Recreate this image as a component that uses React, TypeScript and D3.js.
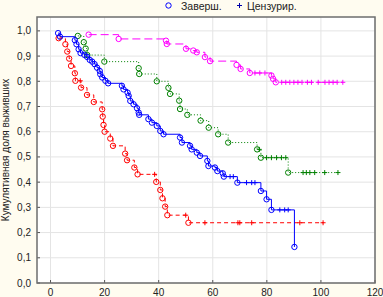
import React from "react";
import * as d3 from "d3";

const W = 383;
const H = 297;

const xTicks = [0, 20, 40, 60, 80, 100, 120];
const yTicks = [0, 0.1, 0.2, 0.3, 0.4, 0.5, 0.6, 0.7, 0.8, 0.9, 1.0];

const legendLabels = ["Заверш.", "Цензурир."];
const yLabel = "Кумулятивная доля выживших";

// Red group
const redEventT = [3, 5.5, 6.2, 6.9, 7.6, 9.0, 9.2, 11.3, 13.5, 16.0, 19.1, 19.3, 19.6, 20.0, 22.1, 23.1, 27.6, 28.3, 31.0, 32.2, 39.1, 40.6, 41.4, 42.4, 43.2, 51.0];
const redEventS = [0.971, 0.947, 0.918, 0.890, 0.861, 0.832, 0.802, 0.775, 0.746, 0.718, 0.689, 0.660, 0.627, 0.600, 0.573, 0.544, 0.513, 0.487, 0.458, 0.431, 0.401, 0.369, 0.336, 0.303, 0.269, 0.239];
const redCensT = [11.0, 38.5, 50.0, 57.1, 69.3, 70.0, 74.4, 92.2, 100.8];
const redEnd = 101;

// Blue group
const blueEventT = [2.8, 3.5, 9.0, 9.6, 10.4, 11.1, 12.5, 13.5, 14.5, 15.4, 16.3, 17.2, 18.2, 18.4, 19.1, 20.3, 21.3, 26.4, 27.0, 28.5, 28.9, 29.5, 30.7, 32.0, 32.6, 32.8, 36.2, 37.5, 39.3, 40.6, 41.8, 47.9, 48.6, 51.6, 52.2, 54.1, 55.3, 58.0, 58.4, 60.8, 61.7, 63.7, 64.1, 69.1, 77.8, 79.9, 81.7, 90.2];
const blueEventS = [0.991, 0.977, 0.963, 0.947, 0.927, 0.912, 0.905, 0.897, 0.885, 0.878, 0.868, 0.854, 0.841, 0.828, 0.815, 0.802, 0.792, 0.782, 0.768, 0.755, 0.742, 0.722, 0.709, 0.693, 0.676, 0.667, 0.650, 0.636, 0.623, 0.603, 0.590, 0.577, 0.557, 0.544, 0.530, 0.517, 0.504, 0.484, 0.464, 0.458, 0.444, 0.435, 0.422, 0.398, 0.365, 0.332, 0.290, 0.143];
const blueCensT = [66.4, 67.6, 72.5, 74.4, 75.6, 84.8, 86.6, 87.9];
const blueEnd = 90.2;

// Green group
const greenEventT = [10.1, 12.3, 13.0, 13.6, 19.9, 32.6, 32.8, 39.3, 43.6, 44.2, 47.6, 47.9, 50.6, 55.5, 58.5, 62.0, 65.7, 76.4, 77.8, 87.9];
const greenEventS = [0.980, 0.955, 0.930, 0.904, 0.878, 0.852, 0.829, 0.800, 0.774, 0.750, 0.723, 0.690, 0.667, 0.644, 0.616, 0.590, 0.557, 0.530, 0.497, 0.438];
const greenCensT = [77.2, 79.9, 81.7, 83.6, 85.4, 87.0, 93.4, 94.6, 95.9, 97.7, 101.4, 106.3];
const greenEnd = 106.3;

// Magenta group
const magEventT = [14.1, 25.2, 42.7, 43.0, 50.1, 52.8, 54.1, 57.1, 59.0, 68.8, 70.3, 73.7, 81.7, 82.3, 83.3];
const magEventS = [0.985, 0.968, 0.961, 0.948, 0.929, 0.922, 0.915, 0.896, 0.880, 0.865, 0.849, 0.833, 0.823, 0.810, 0.796];
const magCensT = [75.6, 77.4, 79.3, 85.5, 87, 88.5, 90, 91.5, 93, 95, 96.5, 99, 101.5, 103, 104.5, 106, 108.1];
const magEnd = 108.1;

type Series = {
  eventT: number[];
  eventS: number[];
  censT: number[];
  end: number;
  color: string;
  dash: string;
};

const series: Series[] = [
  { eventT: redEventT, eventS: redEventS, censT: redCensT, end: redEnd, color: "#ff0000", dash: "4,3" },
  { eventT: greenEventT, eventS: greenEventS, censT: greenCensT, end: greenEnd, color: "#008000", dash: "1,2" },
  { eventT: magEventT, eventS: magEventS, censT: magCensT, end: magEnd, color: "#ff00ff", dash: "8,4" },
  { eventT: blueEventT, eventS: blueEventS, censT: blueCensT, end: blueEnd, color: "#0000ff", dash: "" },
];

const plot = { left: 37, right: 375, top: 17, bottom: 283 };

const x = d3.scaleLinear().domain([-5, 120]).range([plot.left, plot.right]);
const y = d3.scaleLinear().domain([0, 1.055]).range([plot.bottom, plot.top]);

function survAt(s: Series, t: number): number {
  let v = s.eventS[0];
  for (let i = 0; i < s.eventT.length; i++) {
    if (s.eventT[i] <= t) v = s.eventS[i];
  }
  return v;
}

const stepLine = d3
  .line<[number, number]>()
  .x((d) => x(d[0]))
  .y((d) => y(d[1]))
  .curve(d3.curveStepAfter);

export default function App() {
  const font = "'Liberation Sans', Arial, sans-serif";
  return (
    <div style={{ position: "fixed", left: 0, top: 0, width: W, height: H }}>
      <svg width={W} height={H} style={{ display: "block", background: "#fffcf0" }}>
        <rect x={plot.left} y={plot.top} width={plot.right - plot.left} height={plot.bottom - plot.top} fill="#ffffff" />
        {xTicks.map((t) => (
          <line key={"gx" + t} x1={x(t)} x2={x(t)} y1={plot.top} y2={plot.bottom} stroke="#e4e4e4" strokeWidth={1} />
        ))}
        {yTicks.map((t) => (
          <line key={"gy" + t} x1={plot.left} x2={plot.right} y1={y(t)} y2={y(t)} stroke="#e4e4e4" strokeWidth={1} />
        ))}
        {xTicks.map((t) => (
          <line key={"tx" + t} x1={x(t)} x2={x(t)} y1={plot.bottom - 3} y2={plot.bottom} stroke="#555" strokeWidth={1} />
        ))}
        {yTicks.map((t) => (
          <line key={"ty" + t} x1={plot.left} x2={plot.left + 3} y1={y(t)} y2={y(t)} stroke="#555" strokeWidth={1} />
        ))}
        {series.map((s, si) => {
          const pts: [number, number][] = s.eventT.map((t, i) => [t, s.eventS[i]] as [number, number]);
          const last = pts[pts.length - 1];
          if (s.end > last[0]) pts.push([s.end, last[1]]);
          return (
            <g key={"s" + si}>
              <path d={stepLine(pts) || ""} fill="none" stroke={s.color} strokeWidth={1} strokeDasharray={s.dash} />
              {s.censT.map((t, i) => {
                const cx = x(t);
                const cy = y(survAt(s, t));
                return (
                  <g key={"c" + i} stroke={s.color} strokeWidth={1}>
                    <line x1={cx - 2.5} x2={cx + 2.5} y1={cy} y2={cy} />
                    <line x1={cx} x2={cx} y1={cy - 2.5} y2={cy + 2.5} />
                  </g>
                );
              })}
              {s.eventT.map((t, i) => (
                <circle key={"e" + i} cx={x(t)} cy={y(s.eventS[i])} r={2.7} fill="none" stroke={s.color} strokeWidth={1} />
              ))}
            </g>
          );
        })}
        <rect
          x={plot.left}
          y={plot.top}
          width={plot.right - plot.left}
          height={plot.bottom - plot.top}
          fill="none"
          stroke="#6e6e6e"
          strokeWidth={1.5}
        />
        {xTicks.map((t) => (
          <text key={"lx" + t} x={x(t)} y={296} fontSize={10} fontFamily={font} textAnchor="middle" fill="#222">
            {t}
          </text>
        ))}
        {yTicks.map((t) => (
          <text key={"ly" + t} x={31} y={y(t) + 3.5} fontSize={10} fontFamily={font} textAnchor="end" fill="#222">
            {t.toFixed(1).replace(".", ",")}
          </text>
        ))}
        <text
          transform={`translate(9,${(plot.top + plot.bottom) / 2}) rotate(-90)`}
          fontSize={10}
          fontFamily={font}
          textAnchor="middle"
          fill="#222"
        >
          {yLabel}
        </text>
        <circle cx={168.5} cy={5.5} r={2.7} fill="none" stroke="#0000ff" strokeWidth={1} />
        <text x={181} y={9.5} fontSize={10.5} fontFamily={font} fill="#222">
          {legendLabels[0]}
        </text>
        <g stroke="#0000aa" strokeWidth={1}>
          <line x1={237} x2={242} y1={5.5} y2={5.5} />
          <line x1={239.5} x2={239.5} y1={3} y2={8} />
        </g>
        <text x={247} y={9.5} fontSize={10.5} fontFamily={font} fill="#222">
          {legendLabels[1]}
        </text>
      </svg>
    </div>
  );
}
